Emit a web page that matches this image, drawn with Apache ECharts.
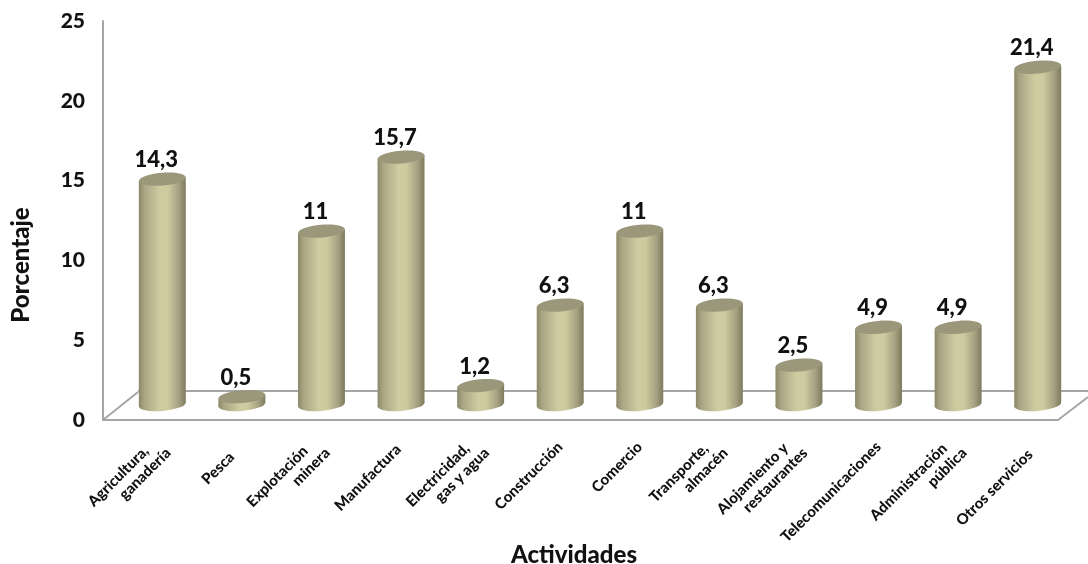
<!DOCTYPE html>
<html><head><meta charset="utf-8">
<style>html,body{margin:0;padding:0;background:#fff}#c{width:1088px;height:564px}</style>
<script src="https://cdn.jsdelivr.net/npm/echarts@6/dist/echarts.min.js"></script>
</head><body><div id="c"></div>
<script>
const N='\u00a0';
const categories = ['Agricultura,'+N.repeat(4)+'\n'+N+'ganadería','Pesca'+N.repeat(4),'Explotación'+N.repeat(4)+'\nminera','Manufactura'+N,'Electricidad,'+N.repeat(3)+'\n'+N+'gas y agua','Construcción','Comercio','Transporte,'+N.repeat(3)+'\nalmacén','Alojamiento y'+N.repeat(3)+'\nrestaurantes','Telecomunicaciones','Administración'+N.repeat(3)+'\npública','Otros servicios'+N.repeat(3)];
const values = [14.3,0.5,11,15.7,1.2,6.3,11,6.3,2.5,4.9,4.9,21.4];
const valueLabels = ['14,3','0,5','11','15,7','1,2','6,3','11','6,3','2,5','4,9','4,9','21,4'];
const FONT = 'Lato, Carlito, sans-serif';
const chart = echarts.init(document.getElementById('c'), null, {renderer:'canvas'});
const side = {type:'linear',x:0,y:0,x2:1,y2:0,colorStops:[
  {offset:0,color:'#8b8868'},{offset:.12,color:'#aaa684'},{offset:.45,color:'#d1cba1'},{offset:.62,color:'#cfc99f'},{offset:.85,color:'#a5a181'},{offset:1,color:'#7d7a5e'}]};
function renderItem(params, api){
  const i = api.value(0), v = api.value(1);
  const top = api.coord([i,v]), base = api.coord([i,0]);
  const r = api.size([1,0])[0]*0.295, ry = 6.4, dy = 1.9, rot = Math.atan(dy/r);
  const cx = top[0];
  const ell = (cy,fill)=>({type:'ellipse',shape:{cx:0,cy:0,rx:r,ry:ry},x:cx,y:cy,rotation:rot,style:{fill}});
  return {type:'group',children:[
    ell(base[1],side),
    {type:'polygon',shape:{points:[[cx-r,top[1]+dy],[cx+r,top[1]-dy],[cx+r,base[1]-dy],[cx-r,base[1]+dy]]},style:{fill:side}},
    ell(top[1],'#9b977a'),
    {type:'text',x:cx-6,y:top[1]-19,style:{text:valueLabels[i],fill:'#111',font:'900 22px '+FONT,align:'center',verticalAlign:'middle'}}
  ]};
}
const line = (pts)=>({type:'polyline',shape:{points:pts},z:0,style:{stroke:'#a6a6a6',lineWidth:2,fill:null}});
chart.setOption({
  animation:false,
  grid:[
    {left:103,top:21,width:955,height:399},
    {left:122.5,top:10.5,width:955,height:394}
  ],
  xAxis:[
    {type:'category',gridIndex:0,data:categories,axisTick:{show:false},axisLabel:{show:false},axisLine:{show:true,lineStyle:{color:'#a6a6a6',width:2}}},
    {type:'category',gridIndex:1,data:categories,axisTick:{show:false},axisLine:{show:false},
     axisLabel:{interval:0,rotate:45,margin:40,color:'#111',fontFamily:FONT,fontWeight:900,fontSize:15,lineHeight:17,hideOverlap:false}}
  ],
  yAxis:[
    {type:'value',gridIndex:0,min:0,max:25,interval:5,splitLine:{show:false},axisTick:{show:false},
     axisLine:{show:true,lineStyle:{color:'#a6a6a6',width:2}},
     axisLabel:{margin:18,padding:[6,0,0,0],color:'#111',fontFamily:FONT,fontWeight:900,fontSize:21}},
    {type:'value',gridIndex:1,min:0,max:25,interval:5,show:false}
  ],
  graphic:{elements:[
    line([[103,420],[138,392]]),
    line([[1058,420],[1088,397]]),
    line([[138,391],[1088,391]]),
    {type:'text',x:574,y:555,style:{text:'Actividades',fill:'#111',font:'900 24px '+FONT,align:'center',verticalAlign:'middle'}},
    {type:'text',x:21,y:265,rotation:Math.PI/2,style:{text:'Porcentaje',fill:'#111',font:'900 24px '+FONT,align:'center',verticalAlign:'middle'}}
  ]},
  series:[{type:'custom',xAxisIndex:1,yAxisIndex:1,coordinateSystem:'cartesian2d',z:5,clip:false,
    data:values.map((v,i)=>[i,v]),renderItem,encode:{x:0,y:1}}]
});
</script></body></html>
